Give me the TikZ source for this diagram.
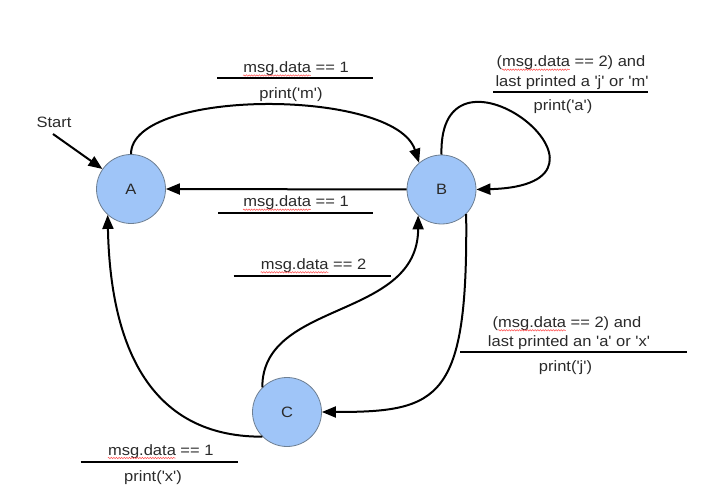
\documentclass[tikz,border=0pt]{standalone}
\usepackage{fontspec}
\setmainfont{Liberation Sans}[FakeStretch=1.1]
\newfontfamily\labfont{Liberation Sans}[FakeStretch=1.1]
\usetikzlibrary{arrows.meta,decorations.pathmorphing}
\definecolor{nodefill}{HTML}{9FC5F8}
\definecolor{nodeline}{HTML}{6E7F92}
\definecolor{txt}{HTML}{2A2A2A}
\tikzset{
  state/.style={circle, draw=nodeline, line width=0.8pt, fill=nodefill,
    minimum size=69pt, inner sep=0pt, font=\labfont\fontsize{15}{18}\selectfont, text=txt},
  trans/.style={line width=2pt, -{Triangle[length=14pt,width=11pt]}},
  lbl/.style={anchor=base, font=\labfont\fontsize{15}{18}\selectfont, text=txt, inner sep=0pt},
  bar/.style={line width=2pt},
  sq/.style={draw=red!70, line width=0.5pt, decorate,
    decoration={snake, amplitude=0.7pt, segment length=2.6pt}}
}
\newcommand\squig[2]{%
  \pgfmathsetmacro\sqa{width("#2")}%
  \pgfmathsetmacro\sqw{width("msg.data")}%
  \draw[sq] ([xshift=\sqa pt, yshift=-3pt]#1.base west) -- ++(\sqw,0);}
\begin{document}
\begin{tikzpicture}[x=1pt,y=-1pt]
\labfont\fontsize{15}{18}\selectfont
\useasboundingbox (0,0) rectangle (709,502);
% states
\node[state] (A) at (131,189) {A};
\node[state] (B) at (441.5,189.5) {B};
\node[state] (C) at (287,412) {C};
% start
\node[lbl] (startlbl) at (54,128) {Start};
\coordinate (start) at (53,134);
\draw[trans] (start) -- (A.145);
% A -> B top
\draw[trans] (A.90) .. controls (131,88) and (395,88) .. (B.130);
\node[lbl] (l1a) at (296,72.5) {msg.data == 1};
\squig{l1a}{}
\draw[bar] (217,78.3) -- (373,78.3);
\node[lbl] (l1b) at (291,98.5) {print('m')};
% B -> A
\draw[trans] (B.180) -- (A.0);
\node[lbl] (l2a) at (296,206.7) {msg.data == 1};
\squig{l2a}{}
\draw[bar] (218,213.3) -- (373,213.3);
% B self loop
\draw[trans] (B.90) .. controls (438,20) and (650,185) .. (B.0);
\node[lbl] (l3a) at (571,66.7) {(msg.data == 2) and};
\squig{l3a}{(}
\node[lbl] (l3b) at (572,86.7) {last printed a 'j' or 'm'};
\draw[bar] (493,91.7) -- (648,91.7);
\node[lbl] (l3c) at (563,111) {print('a')};
% C -> B
\draw[trans] (C.135) .. controls (262,300) and (418,320) .. (B.228);
\node[lbl] (l4a) at (313.5,269.3) {msg.data == 2};
\squig{l4a}{}
\draw[bar] (233.6,276) -- (390.6,276);
% B -> C
\draw[trans] (B.315) .. controls (468,400) and (440,412) .. (C.0);
\node[lbl] (l5a) at (567,327.3) {(msg.data == 2) and};
\squig{l5a}{(}
\node[lbl] (l5b) at (569,346) {last printed an 'a' or 'x'};
\draw[bar] (460,352.3) -- (687,352.3);
\node[lbl] (l5c) at (565.5,371.7) {print('j')};
% C -> A
\draw[trans] (C.225) .. controls (140,437) and (110,330) .. (A.228);
\node[lbl] (l6a) at (160.8,455) {msg.data == 1};
\squig{l6a}{}
\draw[bar] (80.7,462) -- (237.7,462);
\node[lbl] (l6b) at (153,481) {print('x')};
\end{tikzpicture}
\end{document}
